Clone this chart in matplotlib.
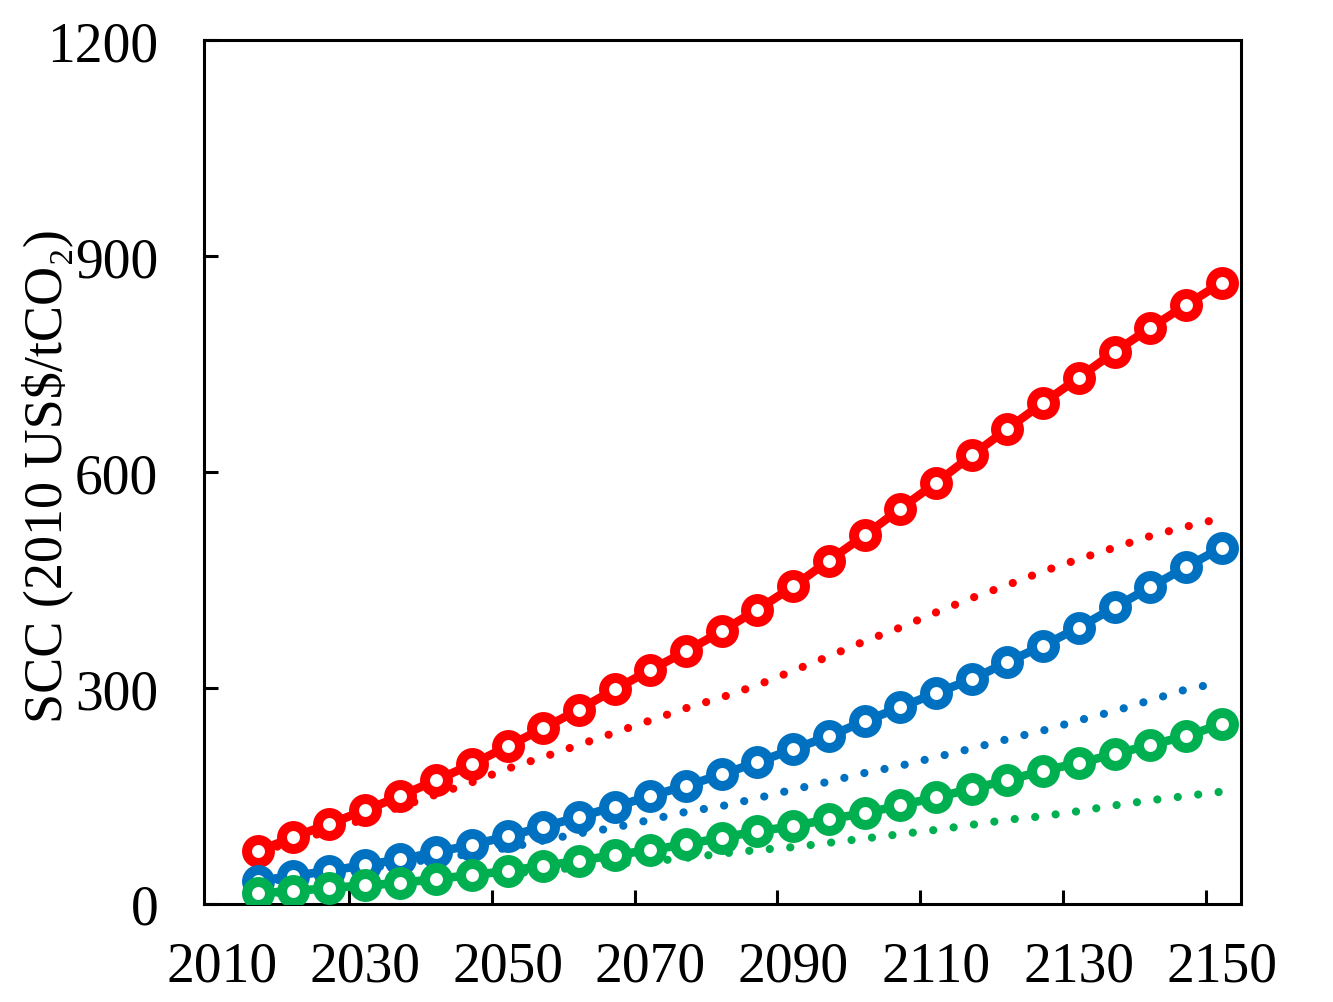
import matplotlib.pyplot as plt

years = list(range(2015, 2151, 5))

# solid lines with circle markers
red_solid = [73, 93, 111, 130, 150, 172, 194, 219, 244, 270, 298, 325, 351, 379,
             409, 441, 477, 512, 549, 585, 623, 660, 696, 731, 767, 800, 832, 863]
blue_solid = [32, 39, 46, 54, 62, 72, 82, 94, 107, 121, 135, 150, 164, 180,
              197, 215, 233, 254, 273, 293, 312, 336, 359, 384, 412, 440, 468, 495]
green_solid = [15, 18, 22, 26, 29, 35, 40, 46, 53, 60, 68, 75, 83, 92,
               101, 108, 118, 126, 137, 148, 160, 172, 185, 196, 208, 221, 233, 250]

# dotted lines
red_dotted = [72, 86, 102, 118, 135, 152, 169, 188, 204, 221, 238, 255, 272, 287,
              304, 324, 344, 365, 384, 405, 425, 443, 462, 479, 495, 511, 524, 536]
blue_dotted = [30, 36, 42, 49, 56, 63, 70, 78, 88, 98, 106, 117, 128, 136,
               147, 159, 170, 182, 192, 204, 216, 229, 241, 255, 268, 283, 298, 308]
green_dotted = [14, 17, 21, 25, 29, 33, 37, 42, 46, 51, 56, 59, 64, 70,
                75, 79, 85, 91, 97, 103, 110, 117, 122, 129, 137, 144, 150, 156]

x_labels = [2010, 2030, 2050, 2070, 2090, 2110, 2130, 2150]
x_tickmarks = [2027.8, 2047.8, 2067.8, 2087.8, 2107.8, 2127.8, 2147.8]
y_ticks = [0, 300, 600, 900, 1200]

RED = '#FF0000'
BLUE = '#0070C0'
GREEN = '#00B050'

plt.rcParams['font.family'] = ['Liberation Serif', 'DejaVu Serif']

fig = plt.figure(figsize=(13.33, 10.03), dpi=100)
ax = fig.add_axes([204 / 1333, 98 / 1003, 1037 / 1333, 864 / 1003])

dot_style = (0, (0.01, 2.5))
for vals, c in [(red_dotted, RED), (blue_dotted, BLUE), (green_dotted, GREEN)]:
    ax.plot(years, vals, color=c, lw=5.9, linestyle=dot_style,
            dash_capstyle='round', zorder=2)

for vals, c in [(red_solid, RED), (blue_solid, BLUE), (green_solid, GREEN)]:
    ax.plot(years, vals, color=c, lw=6.2, marker='o', markersize=16.5,
            markerfacecolor='white', markeredgecolor=c, markeredgewidth=7.2,
            zorder=3)

ax.set_xlim(2007.5, 2152.7)
ax.set_ylim(0, 1200)

ax.set_xticks(x_labels)
ax.set_xticklabels([str(v) for v in x_labels])
ax.set_xticks(x_tickmarks, minor=True)
ax.tick_params(axis='x', which='major', length=0, pad=26, labelsize=40)
ax.tick_params(axis='x', which='minor', direction='in', length=10, width=2.2)

ax.set_yticks(y_ticks)
ax.tick_params(axis='y', direction='in', length=10, width=2.2, pad=33, labelsize=40)

for sp in ['top', 'right', 'bottom', 'left']:
    ax.spines[sp].set_linewidth(2.2)

ax.set_ylabel('SCC (2010 US$/tCO₂)', fontsize=39, va='center')
ax.yaxis.set_label_coords(-0.151, 0.497)

fig.savefig('out.png', dpi=100)
